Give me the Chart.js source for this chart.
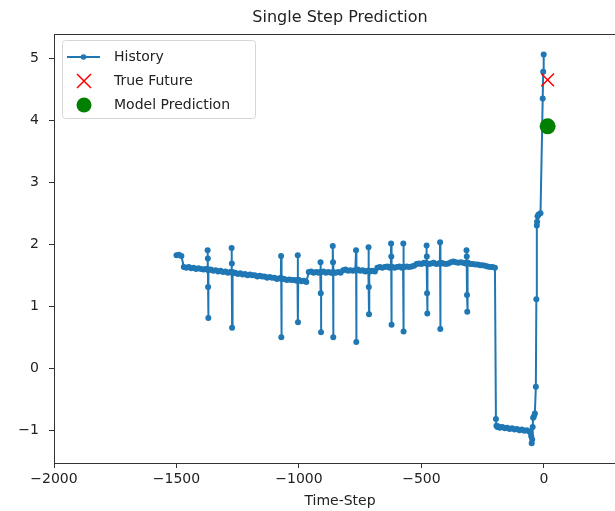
<!DOCTYPE html>
<html>
<head>
<meta charset="utf-8">
<script src="https://cdn.jsdelivr.net/npm/chart.js@4.4.1/dist/chart.umd.min.js"></script>
<style>
  html, body { margin: 0; padding: 0; background: #fff; overflow: hidden; }
  #wrap { width: 640px; height: 511px; }
</style>
</head>
<body>
<div id="wrap"><canvas id="chart" width="640" height="511"></canvas></div>
<script>
// baseline of the history, sampled every 10 steps from -1500 to -200
const baselineStart = -1500;
const baselineStep = 10;
const baselineY = [
  1.82, 1.83, 1.81, 1.63, 1.62, 1.63, 1.61, 1.62, 1.60, 1.61,
  1.60, 1.59, 1.60, 1.58, 1.59, 1.57, 1.58, 1.56, 1.57, 1.55,
  1.56, 1.54, 1.55, 1.53, 1.54, 1.52, 1.53, 1.51, 1.52, 1.50,
  1.51, 1.50, 1.50, 1.48, 1.49, 1.48, 1.48, 1.46, 1.47, 1.46,
  1.46, 1.44, 1.45, 1.44, 1.44, 1.42, 1.43, 1.42, 1.42, 1.41,
  1.42, 1.40, 1.41, 1.39, 1.55, 1.56, 1.54, 1.55, 1.54, 1.55,
  1.56, 1.54, 1.55, 1.54, 1.55, 1.54, 1.55, 1.54, 1.58, 1.59,
  1.57, 1.58, 1.57, 1.58, 1.59, 1.57, 1.58, 1.56, 1.57, 1.56,
  1.57, 1.56, 1.62, 1.63, 1.62, 1.63, 1.64, 1.62, 1.63, 1.62,
  1.63, 1.64, 1.62, 1.63, 1.64, 1.63, 1.64, 1.65, 1.68, 1.69,
  1.68, 1.70, 1.69, 1.68, 1.69, 1.70, 1.68, 1.69, 1.70, 1.69,
  1.68, 1.69, 1.71, 1.72, 1.71, 1.70, 1.71, 1.70, 1.69, 1.70,
  1.68, 1.68, 1.67, 1.67, 1.66, 1.66, 1.65, 1.64, 1.63, 1.63,
  1.62
];

// short spikes: start step, baseline level around it, values of consecutive steps
const spikeX = [-1373, -1275, -1073, -1005, -912, -862, -767, -716, -624, -574, -479, -424, -316];
const spikeBase = [1.59, 1.55, 1.45, 1.42, 1.55, 1.54, 1.58, 1.57, 1.63, 1.63, 1.69, 1.69, 1.70];
const spikeY = [
  [1.90, 1.77, 1.31, 0.81],
  [1.94, 1.69, 0.65],
  [1.81, 0.50],
  [1.82, 0.74],
  [1.71, 1.21, 0.58],
  [1.97, 1.71, 0.50],
  [1.90, 0.42],
  [1.95, 1.31, 0.87],
  [2.01, 1.80, 0.70],
  [2.01, 0.59],
  [1.98, 1.80, 1.21, 0.88],
  [2.03, 0.63],
  [1.90, 1.80, 1.18, 0.91]
];

// low section and final rise
const lowX = [-196, -194, -190, -185, -180, -170, -160, -150, -140, -130, -120, -110, -100, -90, -80, -70, -60, -55, -52, -50, -48, -46, -44, -41, -37];
const lowY = [-0.82, -0.93, -0.95, -0.94, -0.96, -0.95, -0.97, -0.96, -0.98, -0.97, -0.99, -0.98, -1.00, -0.99, -1.01, -1.00, -1.02, -1.04, -1.10, -1.21, -1.15, -0.95, -0.80, -0.78, -0.73];
const riseX = [-33, -31, -29, -28, -26, -22, -14, -5, -3, -1];
const riseY = [-0.30, 1.11, 2.30, 2.36, 2.45, 2.48, 2.50, 4.35, 4.78, 5.06];

const futureX = [15];
const trueFuture = [4.65];
const modelPrediction = [3.9];

const xTicks = [-2000, -1500, -1000, -500, 0];
const yTicks = [-1, 0, 1, 2, 3, 4, 5];

let history = baselineY.map((y, i) => ({ x: baselineStart + i * baselineStep, y: y }));
spikeX.forEach((x0, i) => {
  const vals = spikeY[i];
  history.push({ x: x0 - 1, y: spikeBase[i] });
  vals.forEach((y, j) => history.push({ x: x0 + j, y: y }));
  history.push({ x: x0 + vals.length, y: spikeBase[i] });
});
lowX.forEach((x, i) => history.push({ x: x, y: lowY[i] }));
riseX.forEach((x, i) => history.push({ x: x, y: riseY[i] }));
history.sort((a, b) => a.x - b.x);

const blue = '#1f77b4';
const textColor = '#222';
const font14 = { family: 'DejaVu Sans', size: 14 };
const fmt = v => String(v).replace('-', '\u2212');

const framePlugin = {
  id: 'frame',
  afterDatasetsDraw(chart) {
    const a = chart.chartArea;
    const ctx = chart.ctx;
    ctx.save();
    ctx.strokeStyle = '#333';
    ctx.lineWidth = 1;
    ctx.strokeRect(a.left + 0.5, a.top + 0.5, a.right - a.left, a.bottom - a.top);
    ctx.restore();
  },
  afterDraw(chart) {
    const a = chart.chartArea;
    const ctx = chart.ctx;
    ctx.save();
    // title centred on the plot area
    ctx.fillStyle = textColor;
    ctx.font = '16px "DejaVu Sans"';
    ctx.textAlign = 'center';
    ctx.textBaseline = 'middle';
    ctx.fillText('Single Step Prediction', (a.left + a.right) / 2, 18);

    // legend box
    const bx = 62, by = 40, bw = 193, bh = 78;
    ctx.beginPath();
    ctx.roundRect(bx + 0.5, by + 0.5, bw, bh, 3);
    ctx.fillStyle = 'rgba(255,255,255,0.8)';
    ctx.fill();
    ctx.strokeStyle = '#d6d6d6';
    ctx.lineWidth = 1;
    ctx.stroke();

    const names = chart.data.datasets.map(d => d.label);
    // History
    ctx.strokeStyle = blue;
    ctx.lineWidth = 2;
    ctx.beginPath();
    ctx.moveTo(67, 57);
    ctx.lineTo(100, 57);
    ctx.stroke();
    ctx.fillStyle = blue;
    ctx.beginPath();
    ctx.arc(83.5, 57, 2.8, 0, Math.PI * 2);
    ctx.fill();
    // True Future
    ctx.strokeStyle = '#ff0000';
    ctx.lineWidth = 1.5;
    ctx.beginPath();
    ctx.moveTo(77, 74); ctx.lineTo(91, 88);
    ctx.moveTo(91, 74); ctx.lineTo(77, 88);
    ctx.stroke();
    // Model Prediction
    ctx.fillStyle = '#008000';
    ctx.beginPath();
    ctx.arc(84, 105, 7.5, 0, Math.PI * 2);
    ctx.fill();

    ctx.fillStyle = textColor;
    ctx.font = '14px "DejaVu Sans"';
    ctx.textAlign = 'left';
    ctx.fillText(names[0], 114, 57);
    ctx.fillText(names[1], 114, 81);
    ctx.fillText(names[2], 114, 105);
    ctx.restore();
  }
};

const axisCommon = {
  type: 'linear',
  grid: { display: true, drawOnChartArea: false, drawTicks: true, tickLength: 5, color: '#333' },
  border: { display: true, color: '#333' },
  ticks: { font: font14, color: textColor, callback: fmt }
};

new Chart(document.getElementById('chart'), {
  type: 'scatter',
  data: {
    datasets: [
      {
        label: 'History',
        data: history,
        showLine: true,
        borderColor: blue,
        backgroundColor: blue,
        borderWidth: 2,
        pointRadius: 3,
        pointBorderWidth: 0,
        order: 3
      },
      {
        label: 'True Future',
        data: futureX.map((x, i) => ({ x: x, y: trueFuture[i] })),
        pointStyle: 'crossRot',
        pointRadius: 9,
        borderColor: '#ff0000',
        borderWidth: 1.5,
        order: 2
      },
      {
        label: 'Model Prediction',
        data: futureX.map((x, i) => ({ x: x, y: modelPrediction[i] })),
        pointStyle: 'circle',
        pointRadius: 8,
        backgroundColor: '#008000',
        borderColor: '#008000',
        borderWidth: 0,
        order: 1
      }
    ]
  },
  options: {
    responsive: false,
    animation: false,
    devicePixelRatio: 1,
    layout: { padding: { top: 34, right: 14, left: 0, bottom: 0 } },
    plugins: {
      legend: { display: false },
      title: { display: false },
      tooltip: { enabled: false }
    },
    scales: {
      x: {
        ...axisCommon,
        min: -2000,
        max: 335,
        afterFit(s) { s.height = 48; },
        afterBuildTicks(s) { s.ticks = xTicks.map(v => ({ value: v })); },
        ticks: { ...axisCommon.ticks, padding: 3, maxRotation: 0 },
        title: { display: true, text: 'Time-Step', font: font14, color: textColor, padding: { top: 0, bottom: 1 } }
      },
      y: {
        ...axisCommon,
        min: -1.53,
        max: 5.39,
        afterFit(s) { s.width = 54; },
        afterBuildTicks(s) { s.ticks = yTicks.map(v => ({ value: v })); },
        ticks: { ...axisCommon.ticks, padding: 10 }
      }
    }
  },
  plugins: [framePlugin]
});
</script>
</body>
</html>
